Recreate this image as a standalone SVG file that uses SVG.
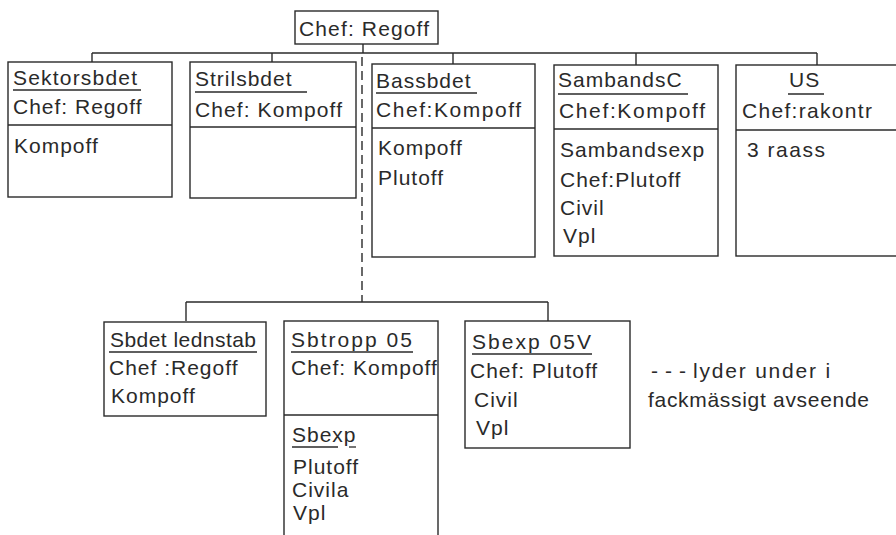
<svg xmlns="http://www.w3.org/2000/svg" width="896" height="535" viewBox="0 0 896 535">
<style>
  .box { fill: #fff; stroke: #2a2a2a; stroke-width: 1.4; }
  .ln { stroke: #2a2a2a; stroke-width: 1.4; fill: none; }
  .dash { stroke: #2a2a2a; stroke-width: 1.4; fill: none; stroke-dasharray: 9 5; }
  .ul { stroke: #2a2a2a; stroke-width: 1.3; }
  text { font-family: "Liberation Sans", Arial, sans-serif; font-size: 21px; letter-spacing: 1px; fill: #2a2a2a; }
</style>
<rect width="896" height="535" fill="#fff"/>
<g id="connectors">
  <line class="ln" x1="363" y1="44" x2="363" y2="53"/>
  <line class="ln" x1="92" y1="53" x2="817" y2="53"/>
  <line class="ln" x1="92" y1="53" x2="92" y2="62"/>
  <line class="ln" x1="272" y1="53" x2="272" y2="62"/>
  <line class="ln" x1="453" y1="53" x2="453" y2="64"/>
  <line class="ln" x1="636" y1="53" x2="636" y2="65"/>
  <line class="ln" x1="817" y1="53" x2="817" y2="65"/>
  <line class="dash" x1="362" y1="57" x2="362" y2="302"/>
  <line class="ln" x1="186" y1="302" x2="548" y2="302"/>
  <line class="ln" x1="186" y1="302" x2="186" y2="321"/>
  <line class="ln" x1="548" y1="302" x2="548" y2="321"/>
</g>
<g id="top">
  <rect class="box" x="295" y="11" width="143" height="33"/>
  <text x="299" y="36" textLength="131" lengthAdjust="spacing">Chef: Regoff</text>
</g>
<g id="sektorsbdet">
  <rect class="box" x="8" y="62" width="164" height="135"/>
  <line class="ln" x1="8" y1="125" x2="172" y2="125"/>
  <text x="13" y="85" textLength="125" lengthAdjust="spacing">Sektorsbdet</text>
  <line class="ul" x1="13" y1="90" x2="141" y2="90"/>
  <text x="13" y="114">Chef: Regoff</text>
  <text x="14" y="153">Kompoff</text>
</g>
<g id="strilsbdet">
  <rect class="box" x="190" y="62" width="166" height="136"/>
  <line class="ln" x1="190" y1="127" x2="356" y2="127"/>
  <text x="195" y="86">Strilsbdet</text>
  <line class="ul" x1="195" y1="92" x2="307" y2="92"/>
  <text x="195" y="117" textLength="148" lengthAdjust="spacing">Chef: Kompoff</text>
</g>
<g id="bassbdet">
  <rect class="box" x="372" y="64" width="163" height="193"/>
  <line class="ln" x1="372" y1="128" x2="535" y2="128"/>
  <text x="376" y="88">Bassbdet</text>
  <line class="ul" x1="376" y1="93" x2="477" y2="93"/>
  <text x="376" y="117" textLength="146" lengthAdjust="spacing">Chef:Kompoff</text>
  <text x="378" y="155">Kompoff</text>
  <text x="378" y="185">Plutoff</text>
</g>
<g id="sambandsc">
  <rect class="box" x="554" y="65" width="164" height="191"/>
  <line class="ln" x1="554" y1="129" x2="718" y2="129"/>
  <text x="558" y="87">SambandsC</text>
  <line class="ul" x1="558" y1="94" x2="688" y2="94"/>
  <text x="559" y="118" textLength="147" lengthAdjust="spacing">Chef:Kompoff</text>
  <text x="560" y="157">Sambandsexp</text>
  <text x="560" y="187">Chef:Plutoff</text>
  <text x="560" y="215">Civil</text>
  <text x="563" y="243">Vpl</text>
</g>
<g id="us">
  <rect class="box" x="736" y="65" width="170" height="191"/>
  <line class="ln" x1="736" y1="130" x2="896" y2="130"/>
  <text x="789" y="87">US</text>
  <line class="ul" x1="788" y1="94" x2="824" y2="94"/>
  <text x="742" y="118" textLength="131" lengthAdjust="spacing">Chef:rakontr</text>
  <text x="747" y="157" textLength="79" lengthAdjust="spacing">3 raass</text>
</g>
<g id="sbdet-lednstab">
  <rect class="box" x="104" y="322" width="162" height="94"/>
  <text x="110" y="347" textLength="147" lengthAdjust="spacing">Sbdet lednstab</text>
  <line class="ul" x1="109" y1="352" x2="257" y2="352"/>
  <text x="109" y="375">Chef :Regoff</text>
  <text x="111" y="403">Kompoff</text>
</g>
<g id="sbtropp05">
  <rect class="box" x="284" y="321" width="154" height="230"/>
  <line class="ln" x1="284" y1="415" x2="438" y2="415"/>
  <text x="291" y="347" textLength="122" lengthAdjust="spacing">Sbtropp 05</text>
  <line class="ul" x1="291" y1="352" x2="413" y2="352"/>
  <text x="291" y="375">Chef: Kompoff</text>
  <text x="292" y="442">Sbexp</text>
  <line class="ul" x1="292" y1="447" x2="338" y2="447"/>
  <line class="ul" x1="349" y1="447" x2="356" y2="447"/>
  <text x="293" y="474">Plutoff</text>
  <text x="292" y="497">Civila</text>
  <text x="293" y="520">Vpl</text>
</g>
<g id="sbexp05v">
  <rect class="box" x="465" y="321" width="165" height="127"/>
  <text x="472" y="349" textLength="120" lengthAdjust="spacing">Sbexp 05V</text>
  <line class="ul" x1="472" y1="354" x2="592" y2="354"/>
  <text x="470" y="378">Chef: Plutoff</text>
  <text x="474" y="407">Civil</text>
  <text x="476" y="435">Vpl</text>
</g>
<g id="legend">
  <text x="651" y="378"><tspan letter-spacing="7">---</tspan><tspan letter-spacing="1.8">lyder under i</tspan></text>
  <text x="648" y="407" textLength="222" lengthAdjust="spacing">fackmässigt avseende</text>
</g>
</svg>
